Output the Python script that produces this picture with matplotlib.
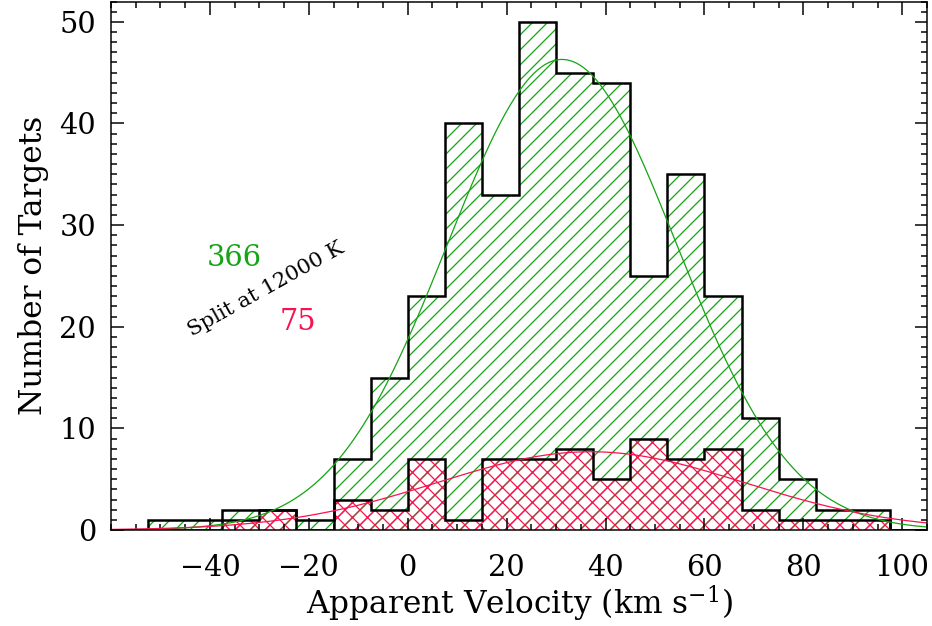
import matplotlib
matplotlib.use("Agg")
import matplotlib.pyplot as plt
import numpy as np
from matplotlib.ticker import MultipleLocator

# histogram bins (km/s) and counts
bin_edges = [-52.5, -45, -37.5, -30, -22.5, -15, -7.5, 0, 7.5, 15, 22.5,
             30, 37.5, 45, 52.5, 60, 67.5, 75, 82.5, 90, 97.5, 105]
total_counts = [1, 1, 2, 2, 1, 7, 15, 23, 40, 33, 50,
                45, 44, 25, 35, 23, 11, 5, 2, 2, 0]
cool_counts = [0, 0, 1, 2, 0, 3, 2, 7, 1, 7, 7,
               8, 5, 9, 7, 8, 2, 1, 1, 1, 0]

# gaussian fits: peak, centre, sigma
total_fit = (46.3, 31.2, 23.2)
cool_fit = (7.7, 37.0, 31.0)

xtick_values = [-40, -20, 0, 20, 40, 60, 80, 100]
ytick_values = [0, 10, 20, 30, 40, 50]

total_label = "366"
cool_label = "75"
split_label = "Split at 12000 K"

GREEN = "#14a414"
RED = "#f7134f"
DPI = 90

plt.rcParams["font.family"] = "DejaVu Serif"
plt.rcParams["mathtext.fontset"] = "dejavuserif"
plt.rcParams["hatch.linewidth"] = 1.0


def gaussian(v, peak, centre, sigma):
    return peak * np.exp(-0.5 * ((v - centre) / sigma) ** 2)


fig = plt.figure(figsize=(932 / DPI, 626 / DPI), dpi=DPI)
ax = fig.add_axes([111 / 932, 1 - 530 / 626, (927 - 111) / 932, (530 - 1.5) / 626])

ax.stairs(total_counts, bin_edges, fill=True, facecolor="none", edgecolor=GREEN,
          hatch="//", linewidth=0)
ax.stairs(cool_counts, bin_edges, fill=True, facecolor="none", edgecolor=RED,
          hatch="xx", linewidth=0)
ax.stairs(total_counts, bin_edges, color="black", linewidth=2.0, baseline=0)
ax.stairs(cool_counts, bin_edges, color="black", linewidth=2.0, baseline=0)

v = np.linspace(-60, 105, 500)
ax.plot(v, gaussian(v, *total_fit), color=GREEN, linewidth=1.0)
ax.plot(v, gaussian(v, *cool_fit), color=RED, linewidth=1.0)

ax.text(-35.1, 26.8, total_label, color=GREEN, fontsize=23, ha="center", va="center")
ax.text(-22.3, 20.5, cool_label, color=RED, fontsize=23, ha="center", va="center")
ax.text(-28.6, 23.7, split_label, color="black", fontsize=17, rotation=29,
        ha="center", va="center", rotation_mode="anchor")

ax.set_xlim(-60, 105)
ax.set_ylim(0, 52)
ax.set_xticks(xtick_values)
ax.set_yticks(ytick_values)
ax.xaxis.set_minor_locator(MultipleLocator(5))
ax.yaxis.set_minor_locator(MultipleLocator(1))
ax.tick_params(which="both", direction="in", top=True, right=True, width=1.2)
ax.tick_params(which="major", length=10, labelsize=23)
ax.tick_params(which="minor", length=5)
ax.tick_params(axis="x", pad=19)
ax.tick_params(axis="y", pad=12)
for spine in ax.spines.values():
    spine.set_linewidth(1.2)

ax.set_xlabel("Apparent Velocity (km s$^{-1}$)", fontsize=25, labelpad=2)
ax.set_ylabel("Number of Targets", fontsize=25, labelpad=8)

fig.savefig("out.png", dpi=DPI)
